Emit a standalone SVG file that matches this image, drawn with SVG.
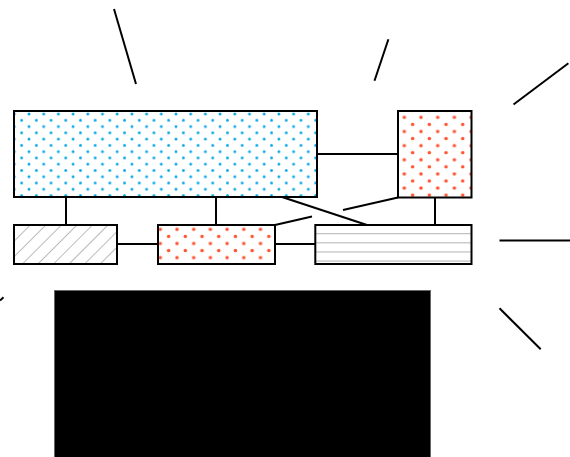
<svg xmlns="http://www.w3.org/2000/svg" width="570" height="457" viewBox="0 0 570 457">
<style>
.node{stroke:#000;stroke-width:2}
.conn line{stroke:#000;stroke-width:2;stroke-linecap:butt}
.b{fill:#0aa8e6}
.r{fill:#ff5230}
</style>
<defs>
<pattern id="blueDots" patternUnits="userSpaceOnUse" x="14.3" y="114" width="14.7" height="12.54">
<circle class="b" cx="0" cy="0" r="1.45"/><circle class="b" cx="14.7" cy="0" r="1.45"/>
<circle class="b" cx="0" cy="12.54" r="1.45"/><circle class="b" cx="14.7" cy="12.54" r="1.45"/>
<circle class="b" cx="7.35" cy="6.27" r="1.45"/>
</pattern>
<pattern id="redDotsA" patternUnits="userSpaceOnUse" x="404.3" y="117.3" width="16.7" height="14.14">
<circle class="r" cx="0" cy="0" r="1.75"/><circle class="r" cx="16.7" cy="0" r="1.75"/>
<circle class="r" cx="0" cy="14.14" r="1.75"/><circle class="r" cx="16.7" cy="14.14" r="1.75"/>
<circle class="r" cx="8.35" cy="7.07" r="1.75"/>
</pattern>
<pattern id="redDotsB" patternUnits="userSpaceOnUse" x="160.3" y="229.3" width="16.7" height="14.14">
<circle class="r" cx="0" cy="0" r="1.75"/><circle class="r" cx="16.7" cy="0" r="1.75"/>
<circle class="r" cx="0" cy="14.14" r="1.75"/><circle class="r" cx="16.7" cy="14.14" r="1.75"/>
<circle class="r" cx="8.35" cy="7.07" r="1.75"/>
</pattern>
<pattern id="hatch" patternUnits="userSpaceOnUse" x="14" y="225" width="11" height="11" patternTransform="rotate(45 14 225)">
<line x1="0" y1="0" x2="0" y2="11" stroke="#777" stroke-width="1"/>
</pattern>
<pattern id="hlines" patternUnits="userSpaceOnUse" x="0" y="233.3" width="10" height="9.1">
<line x1="0" y1="0" x2="10" y2="0" stroke="#888" stroke-width="1.3"/>
</pattern>
</defs>
<rect width="570" height="457" fill="#fff"/>
<g class="conn">
<line x1="317" y1="154" x2="398" y2="154"/>
<line x1="66" y1="197" x2="66" y2="225"/>
<line x1="216" y1="197" x2="216" y2="225"/>
<line x1="117" y1="244" x2="158" y2="244"/>
<line x1="275" y1="244" x2="315" y2="244"/>
<line x1="435" y1="197" x2="435" y2="225"/>
<line x1="282" y1="197" x2="367" y2="225"/>
<line x1="398" y1="197.5" x2="343" y2="210"/>
<line x1="275" y1="225" x2="312" y2="216.5"/>
<line x1="114" y1="9" x2="136" y2="84"/>
<line x1="388.4" y1="39.3" x2="374.5" y2="80.7"/>
<line x1="568.4" y1="63.3" x2="513.5" y2="104.5"/>
<line x1="499.5" y1="240.5" x2="570" y2="240.5"/>
<line x1="499.5" y1="308.3" x2="540.7" y2="349.3"/>
<line x1="0" y1="300.5" x2="3.5" y2="297.3"/>
</g>
<g id="node-blue"><rect class="node" x="14" y="111" width="303" height="86" fill="url(#blueDots)"/></g>
<g id="node-red-right"><rect class="node" x="398" y="111" width="73.5" height="86.5" fill="url(#redDotsA)"/></g>
<g id="node-hatch"><rect class="node" x="14" y="225" width="103" height="39" fill="url(#hatch)"/></g>
<g id="node-red-mid"><rect class="node" x="158" y="225" width="117" height="39" fill="url(#redDotsB)"/></g>
<g id="node-lines"><rect class="node" x="315.3" y="225" width="156.2" height="39" fill="url(#hlines)"/></g>
<g id="node-black"><rect x="54.5" y="290.5" width="376" height="170" fill="#000" stroke="#666" stroke-width="1"/></g>
</svg>
